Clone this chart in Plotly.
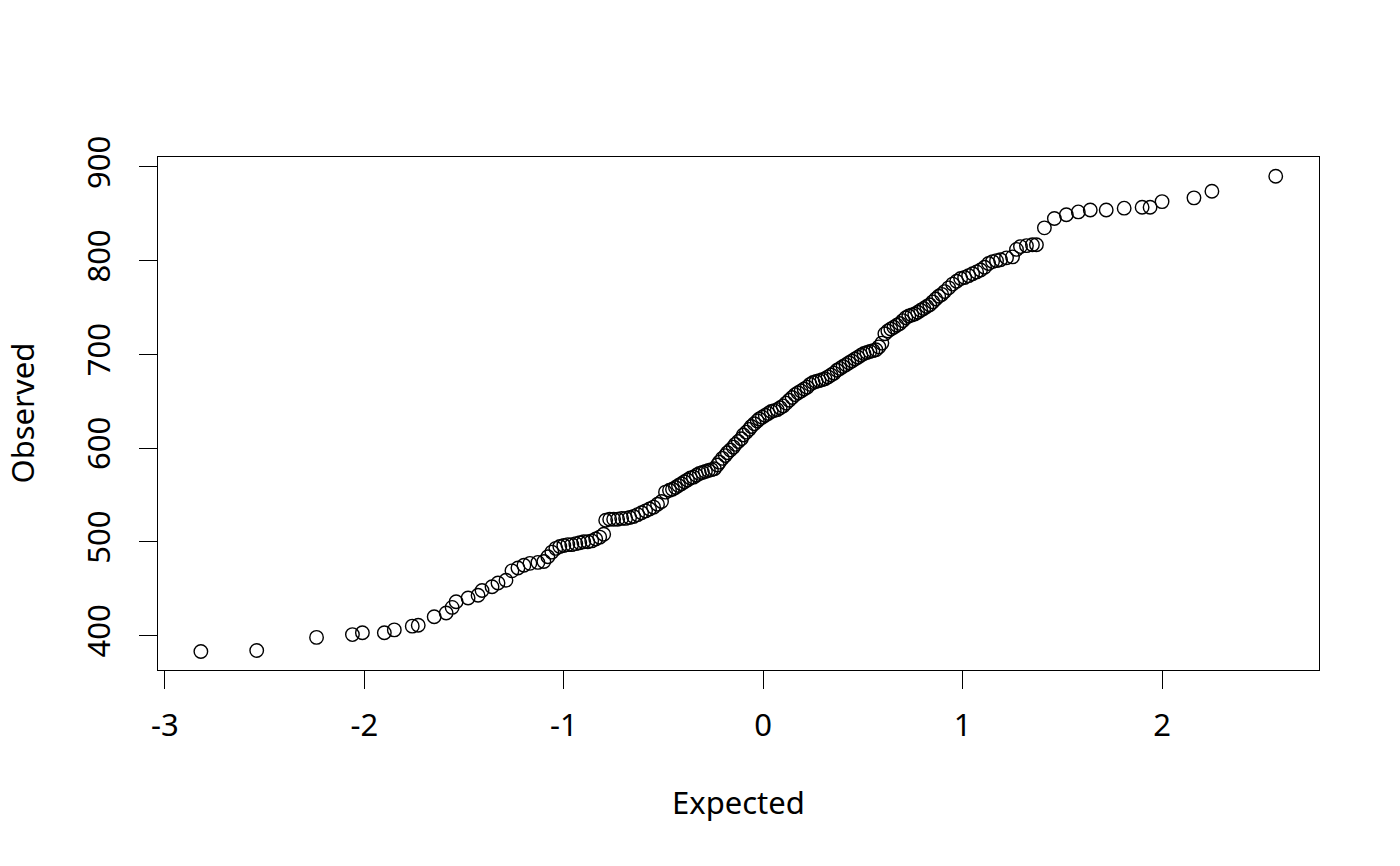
import plotly.graph_objects as go

# points, left tail -> right tail
expected = [
    -2.82, -2.54, -2.24, -2.06, -2.01, -1.90, -1.85, -1.76, -1.73, -1.65,
    -1.59, -1.56, -1.54, -1.48, -1.43, -1.41, -1.36, -1.33, -1.29, -1.26,
    -1.23, -1.20, -1.17, -1.13, -1.10, -1.08, -1.06, -1.04,
    -1.02, -1.00, -0.98, -0.96, -0.94, -0.92, -0.90, -0.88, -0.86, -0.84, -0.82, -0.80,
    -0.79, -0.77, -0.75, -0.73, -0.71, -0.69, -0.67, -0.65, -0.63, -0.61,
    -0.59, -0.57, -0.55, -0.53, -0.51,
    -0.49, -0.47, -0.455, -0.44, -0.425, -0.41, -0.395, -0.38, -0.365, -0.35,
    -0.335, -0.32, -0.305, -0.29, -0.275, -0.26, -0.245,
    -0.23, -0.22, -0.205, -0.19, -0.18, -0.165, -0.15, -0.14, -0.125, -0.11,
    -0.10, -0.085, -0.07, -0.06, -0.045, -0.03, -0.02, -0.005,
    0.01, 0.025, 0.04, 0.055, 0.07, 0.085, 0.10, 0.115, 0.13, 0.145,
    0.16, 0.175, 0.19, 0.205, 0.22, 0.235, 0.25, 0.265, 0.28, 0.295,
    0.31, 0.325, 0.34, 0.355, 0.37, 0.385, 0.40, 0.415, 0.43, 0.445,
    0.46, 0.475, 0.49, 0.505, 0.52, 0.535, 0.55, 0.565, 0.58,
    0.595, 0.61, 0.625, 0.64, 0.655, 0.67, 0.685, 0.70, 0.715, 0.73,
    0.745, 0.76, 0.775, 0.79, 0.805, 0.82, 0.835, 0.85, 0.865, 0.88,
    0.895, 0.91, 0.93, 0.95, 0.97, 0.99,
    1.01, 1.03, 1.05, 1.07, 1.09, 1.11, 1.13, 1.15, 1.17, 1.19,
    1.22, 1.25, 1.27, 1.29, 1.32, 1.35, 1.37,
    1.41, 1.46, 1.52, 1.58, 1.64, 1.72, 1.81, 1.90, 1.94, 2.00,
    2.16, 2.25, 2.57,
]
observed = [
    383, 384, 398, 401, 403, 403, 406, 410, 411, 420,
    424, 430, 436, 440, 443, 448, 452, 456, 459, 469,
    472, 475, 477, 478, 479, 484, 489, 493,
    495, 496, 497, 497, 498, 499, 500, 500, 501, 503, 505, 508,
    523, 524, 524, 524, 525, 525, 526, 527, 529, 531,
    533, 535, 537, 540, 543,
    553, 555, 556, 558, 560, 562, 564, 566, 568, 569,
    571, 573, 574, 575, 576, 577, 578,
    582, 585, 589, 592, 595, 598, 601, 604, 607, 610,
    614, 617, 620, 623, 626, 629, 631, 633,
    635, 637, 639, 640, 641, 643, 645, 648, 651, 654,
    657, 659, 661, 663, 665, 668, 670, 671, 672, 673,
    674, 676, 678, 680, 683, 685, 687, 689, 691, 693,
    695, 697, 699, 701, 702, 703, 704, 705, 708,
    712, 722, 725, 727, 729, 731, 733, 736, 739, 741,
    742, 743, 745, 747, 749, 751, 753, 756, 759, 762,
    764, 767, 771, 775, 778, 781,
    782, 784, 786, 788, 790, 793, 797, 799, 800, 801,
    803, 804, 812, 815, 816, 817, 817,
    835, 845, 849, 852, 854, 854, 856, 857, 857, 863,
    867, 874, 890,
]

x_ticks = [-3, -2, -1, 0, 1, 2]
y_ticks = [400, 500, 600, 700, 800, 900]

FONT = "Noto Sans"
FSIZE = 31

fig = go.Figure()
fig.add_trace(go.Scatter(
    x=expected, y=observed, mode='markers',
    marker=dict(symbol='circle-open', size=13.5, color='black',
                line=dict(width=1.4, color='black')),
    hoverinfo='x+y', showlegend=False
))

axis_common = dict(
    showgrid=False, zeroline=False,
    showline=True, linecolor='black', linewidth=1.3, mirror=True,
    ticks='outside', ticklen=18, tickwidth=1.3, tickcolor='black',
    tickfont=dict(family=FONT, size=FSIZE, color='black'),
)

fig.update_xaxes(range=[-3.035, 2.787], tickvals=x_ticks,
                 ticktext=[str(t) for t in x_ticks],
                 ticklabelstandoff=10, **axis_common)
fig.update_yaxes(range=[363.2, 910.6], tickvals=y_ticks,
                 ticktext=[str(t) for t in y_ticks],
                 tickangle=-90, ticklabelstandoff=16, **axis_common)

# page body adds ~8px offset, so margins are shifted to land the box at 158..1319 / 157..669
fig.update_layout(
    width=1400, height=866,
    margin=dict(l=150, r=89, t=149, b=204),
    plot_bgcolor='white', paper_bgcolor='white',
    font=dict(family=FONT, size=FSIZE, color='black'),
    showlegend=False,
    annotations=[
        dict(text='Expected', xref='paper', yref='paper', x=0.5, y=-0.258,
             xanchor='center', yanchor='middle', showarrow=False,
             font=dict(family=FONT, size=FSIZE, color='black')),
        dict(text='Observed', xref='paper', yref='paper', x=-0.118, y=0.5,
             xanchor='center', yanchor='middle', showarrow=False, textangle=-90,
             font=dict(family=FONT, size=FSIZE, color='black')),
    ],
)

fig.write_html("out.html")
